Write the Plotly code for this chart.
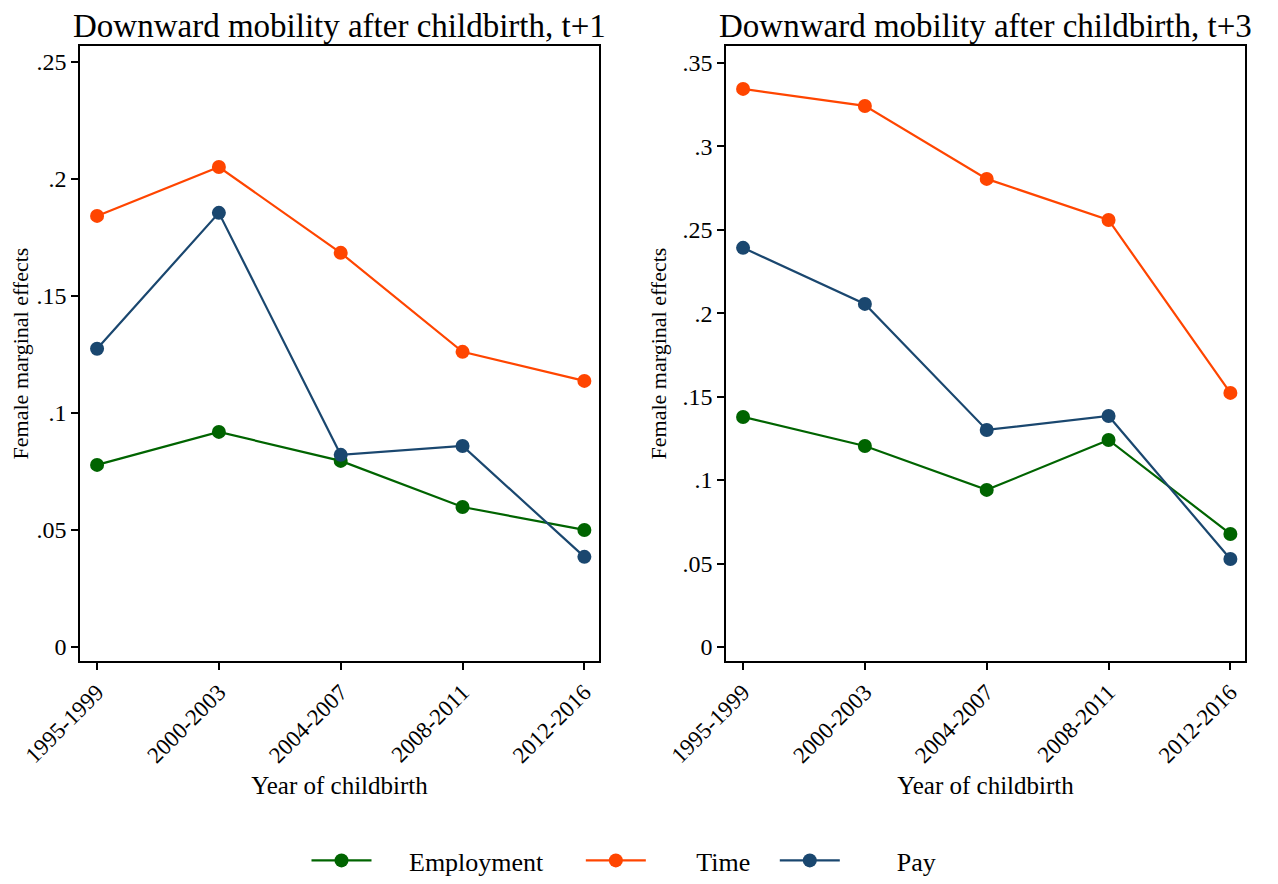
import plotly.graph_objects as go

categories = ["1995-1999", "2000-2003", "2004-2007", "2008-2011", "2012-2016"]

# t+1 panel
emp_t1 = [0.0778, 0.0919, 0.0795, 0.0598, 0.0500]
time_t1 = [0.1842, 0.2051, 0.1684, 0.1261, 0.1137]
pay_t1 = [0.1274, 0.1855, 0.0821, 0.0859, 0.0385]

# t+3 panel
emp_t3 = [0.1378, 0.1204, 0.0941, 0.1240, 0.0677]
time_t3 = [0.3343, 0.3241, 0.2804, 0.2558, 0.1522]
pay_t3 = [0.2391, 0.2055, 0.1300, 0.1384, 0.0527]

ticks_t1 = [0, 0.05, 0.1, 0.15, 0.2, 0.25]
ticklabels_t1 = ["0", ".05", ".1", ".15", ".2", ".25"]
ticks_t3 = [0, 0.05, 0.1, 0.15, 0.2, 0.25, 0.3, 0.35]
ticklabels_t3 = ["0", ".05", ".1", ".15", ".2", ".25", ".3", ".35"]

titles = ["Downward mobility after childbirth, t+1", "Downward mobility after childbirth, t+3"]
legend_names = ["Employment", "Time", "Pay"]

GREEN = "#006400"
ORANGE = "#FF4500"
BLUE = "#1A476F"
FONT = "Liberation Serif"
NB = "\u00a0"

# page has an 8px body margin; figure sized to fit the window
OFF = 8
W, H = 1270, 876


def fx(px):
    return (px - OFF) / W


def fy(py):
    return 1 - (py - OFF) / H


xs = list(range(len(categories)))
fig = go.Figure()

series = [(legend_names[0], GREEN, emp_t1, emp_t3, 5, 5),
          (legend_names[1], ORANGE, time_t1, time_t3, 7, 3),
          (legend_names[2], BLUE, pay_t1, pay_t3, 8, 0)]
for name, color, v1, v3, lead, trail in series:
    fig.add_trace(go.Scatter(x=xs, y=v1, mode="lines+markers",
                             name=NB * lead + name + NB * trail,
                             line=dict(color=color, width=2.2), marker=dict(color=color, size=14),
                             xaxis="x", yaxis="y", legendgroup=name))
for name, color, v1, v3, lead, trail in series:
    fig.add_trace(go.Scatter(x=xs, y=v3, mode="lines+markers", name=name, showlegend=False,
                             line=dict(color=color, width=2.2), marker=dict(color=color, size=14),
                             xaxis="x2", yaxis="y2", legendgroup=name))

dom_left = [fx(80), fx(599)]
dom_right = [fx(726), fx(1245)]
dom_y = [fy(661), fy(46)]

xcommon = dict(range=[-0.14, 4.12], tickvals=xs, ticktext=categories, tickangle=-45,
               showline=True, linecolor="black", linewidth=1.5, mirror=True,
               ticks="outside", ticklen=7, tickwidth=1.5, tickcolor="black",
               showgrid=False, zeroline=False, automargin=False,
               tickfont=dict(family=FONT, size=23, color="black"),
               title=dict(text="Year of childbirth", font=dict(family=FONT, size=25, color="black"), standoff=10))
ycommon = dict(showline=True, linecolor="black", linewidth=1.5, mirror=True,
               ticks="outside", ticklen=7, tickwidth=1.5, tickcolor="black",
               showgrid=False, zeroline=False, automargin=False,
               tickfont=dict(family=FONT, size=24, color="black"),
               title=dict(text="Female marginal effects", font=dict(family=FONT, size=22, color="black"), standoff=10))

fig.update_layout(
    width=W, height=H,
    paper_bgcolor="white", plot_bgcolor="white",
    margin=dict(l=0, r=0, t=0, b=0),
    font=dict(family=FONT, color="black"),
    xaxis=dict(domain=dom_left, anchor="y", **xcommon),
    yaxis=dict(domain=dom_y, anchor="x", range=[-0.006, 0.2568], tickvals=ticks_t1, ticktext=ticklabels_t1, **ycommon),
    xaxis2=dict(domain=dom_right, anchor="y2", **xcommon),
    yaxis2=dict(domain=dom_y, anchor="x2", range=[-0.0084, 0.360], tickvals=ticks_t3, ticktext=ticklabels_t3, **ycommon),
    legend=dict(orientation="h", x=fx(624), xanchor="center", y=0, yanchor="bottom",
                font=dict(family=FONT, size=26, color="black"), itemwidth=60, tracegroupgap=0),
    showlegend=True,
)

for i, t in enumerate(titles):
    dom = dom_left if i == 0 else dom_right
    fig.add_annotation(text=t, x=(dom[0] + dom[1]) / 2, y=fy(26), xref="paper", yref="paper",
                       xanchor="center", yanchor="middle", showarrow=False,
                       font=dict(family=FONT, size=33, color="black"))

fig.write_html("out.html")
